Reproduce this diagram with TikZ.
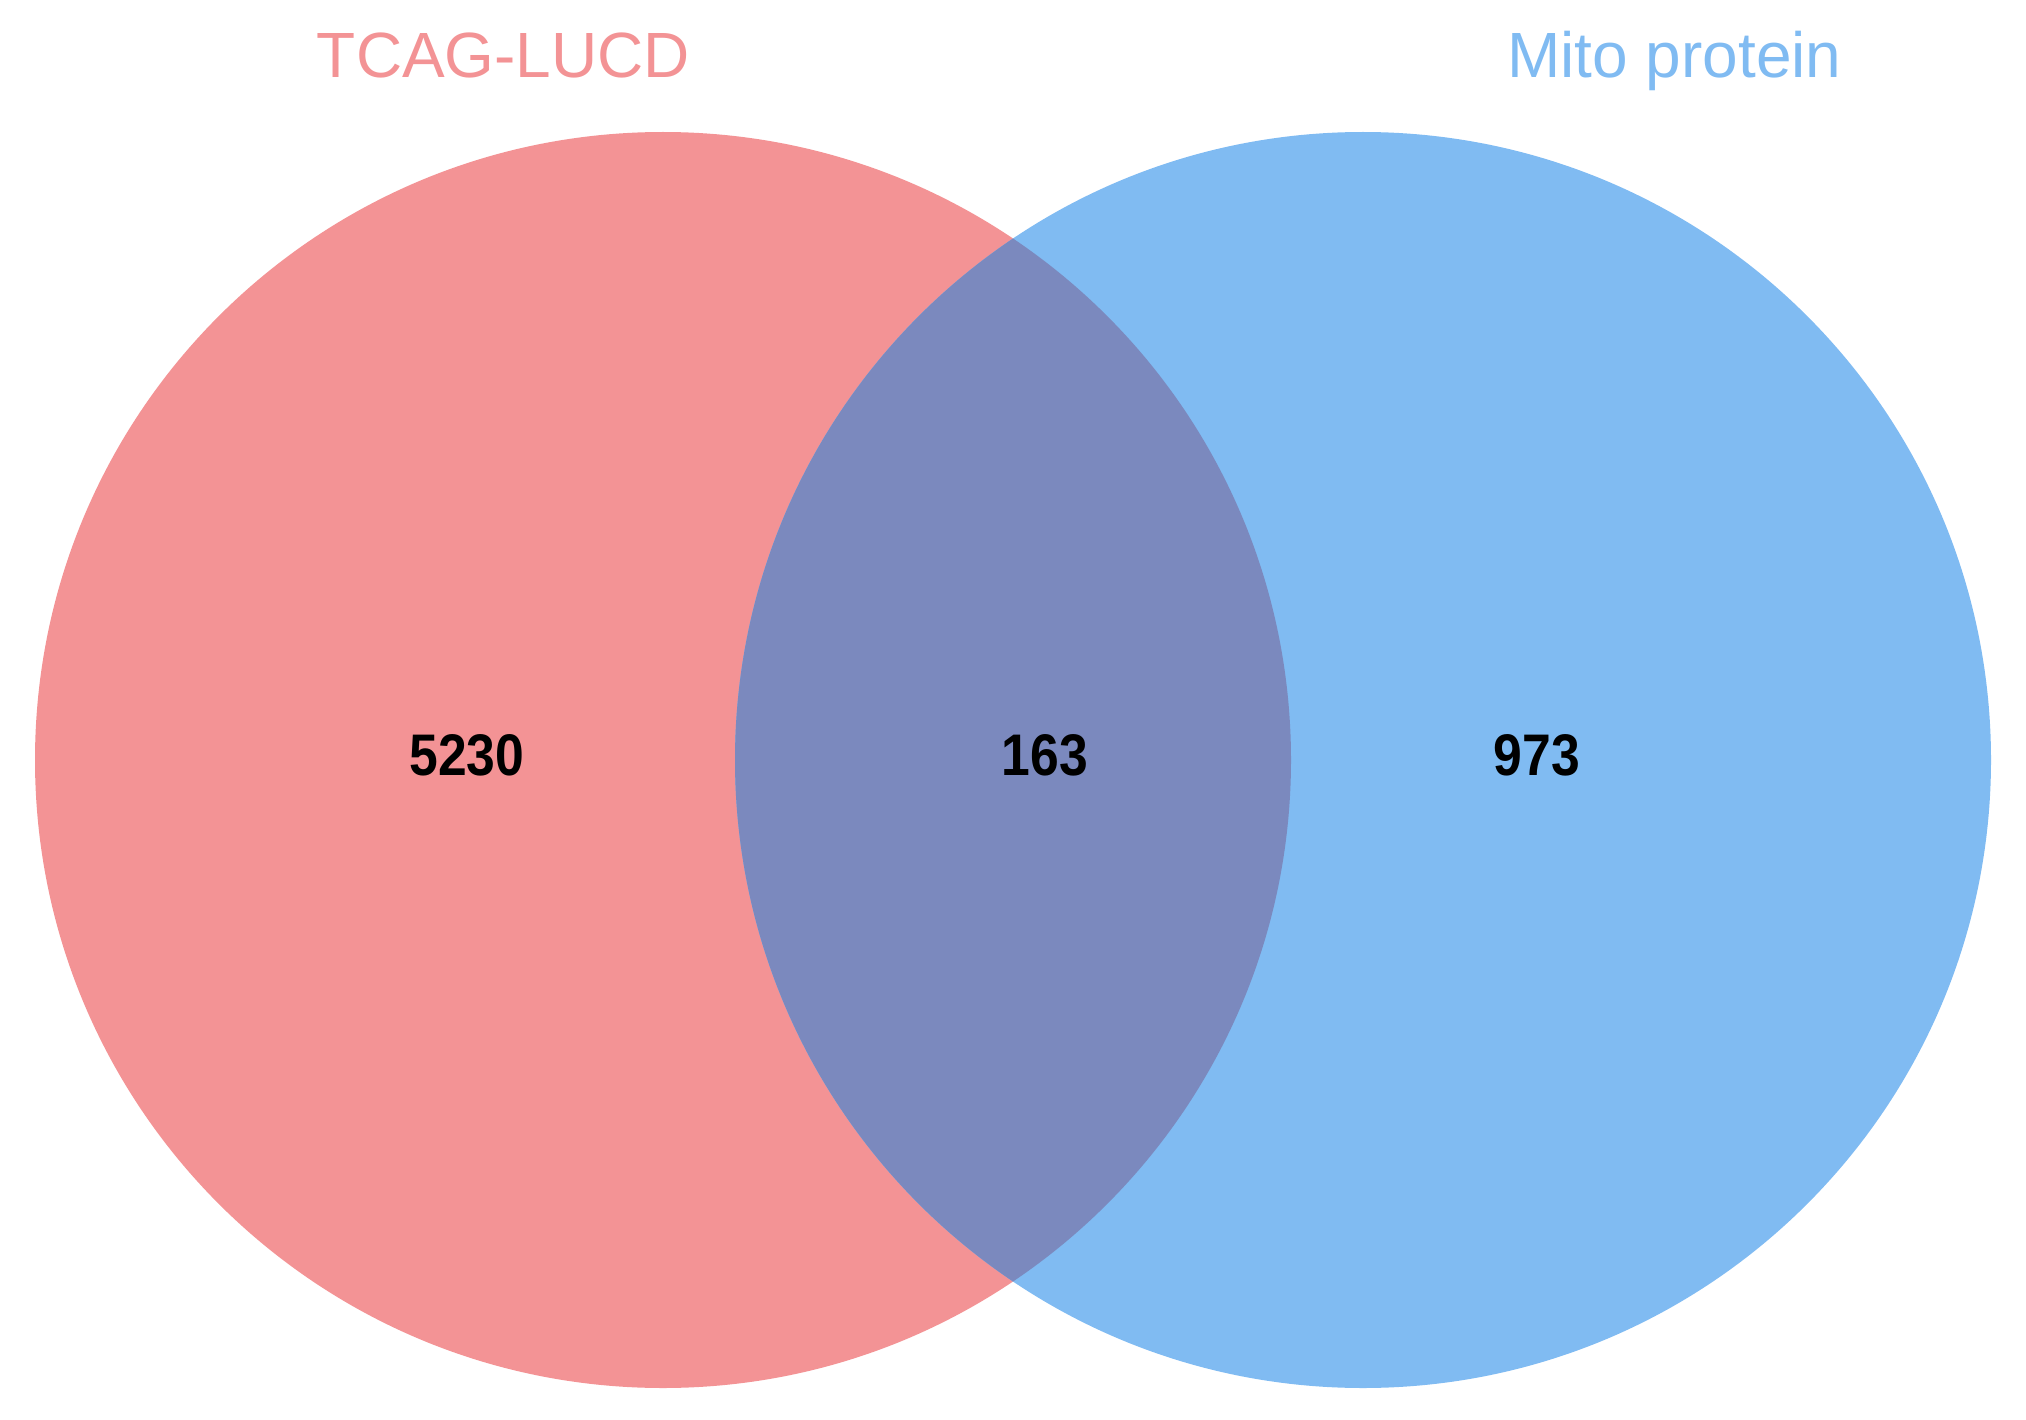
\documentclass[tikz,border=0pt]{standalone}
\usepackage{fontspec}
\setmainfont{Liberation Sans}
\newfontfamily\numfont[FakeStretch=0.88]{Liberation Sans}
\definecolor{setpink}{RGB}{243,147,149}
\definecolor{setblue}{RGB}{128,187,242}
\definecolor{setboth}{RGB}{123,137,190}
\tikzset{
  settitle/.style={anchor=base, inner sep=0pt, font=\fontsize{18.2}{20}\selectfont},
  setcount/.style={anchor=base, inner sep=0pt, font=\numfont\bfseries\fontsize{16.7}{18}\selectfont}
}
\begin{document}
\begin{tikzpicture}
            \useasboundingbox (0,0) rectangle (20.26,14.19);

            \coordinate (tcag) at (6.63,6.59);
            \coordinate (mito) at (13.63,6.59);

            \fill[setpink] (tcag) circle (6.28);
            \fill[setblue] (mito) circle (6.28);
            \begin{scope}
                \clip (tcag) circle (6.28);
                \fill[setboth] (mito) circle (6.28);
            \end{scope}

            \node[settitle, text=setpink] (tcagname) at (5.035,13.41) {TCAG-LUCD};
            \node[settitle, text=setblue] (mitoname) at (16.745,13.41) {Mito protein};

            \node[setcount] (onlytcag) at (4.67,6.44) {5230};
            \node[setcount] (both) at (10.45,6.44) {163};
            \node[setcount] (onlymito) at (15.37,6.44) {973};
        \end{tikzpicture}
\end{document}
